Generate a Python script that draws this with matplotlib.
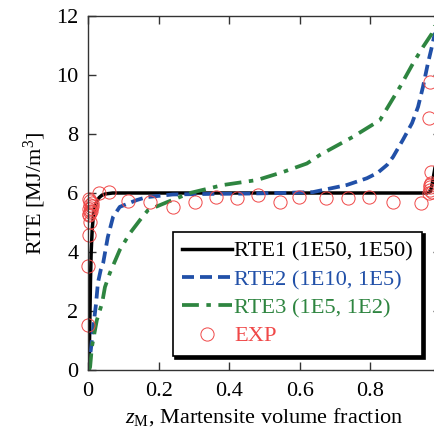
import matplotlib
matplotlib.use("Agg")
import matplotlib.pyplot as plt
import numpy as np

plt.rcParams['font.family'] = ['Liberation Serif', 'DejaVu Serif']
plt.rcParams['mathtext.fontset'] = 'custom'
plt.rcParams['mathtext.rm'] = 'Liberation Serif'
plt.rcParams['mathtext.it'] = 'Liberation Serif:italic'
plt.rcParams['font.size'] = 16

# RTE1 (1E50, 1E50)
z1 = [0.003, 0.005, 0.007, 0.009, 0.012, 0.016, 0.02, 0.025, 0.032, 0.04, 0.05, 0.07, 0.1,
      0.3, 0.5, 0.7, 0.9, 0.96, 0.97, 0.975, 0.985, 0.993, 1.0]
v1 = [0.0, 1.5, 3.0, 4.0, 4.8, 5.3, 5.55, 5.72, 5.85, 5.93, 5.97, 6.0, 6.0,
      6.0, 6.0, 6.0, 6.0, 6.0, 6.05, 6.3, 7.0, 8.5, 10.5]

# RTE2 (1E10, 1E5)
z2 = [0.0, 0.008, 0.015, 0.023, 0.028, 0.036, 0.043, 0.056, 0.071, 0.09, 0.138, 0.166, 0.24,
      0.35, 0.45, 0.544, 0.637, 0.733, 0.79, 0.82, 0.847, 0.864, 0.892, 0.918, 0.935,
      0.949, 0.963, 0.974, 0.99, 1.0]
v2 = [0.0, 0.68, 1.46, 2.27, 2.95, 3.39, 3.63, 4.5, 5.19, 5.53, 5.76, 5.86, 5.95,
      5.97, 5.98, 6.0, 6.03, 6.27, 6.5, 6.68, 6.95, 7.22, 7.8, 8.37, 8.92,
      9.6, 10.4, 10.95, 11.8, 12.3]

# RTE3 (1E5, 1E2)
z3 = [0.003, 0.006, 0.011, 0.025, 0.04, 0.048, 0.062, 0.09, 0.119, 0.147, 0.17, 0.224, 0.289,
      0.382, 0.479, 0.552, 0.62, 0.657, 0.75, 0.827, 0.884, 0.921, 0.949, 0.974, 1.0]
v3 = [0.0, 0.1, 0.78, 1.69, 2.27, 2.81, 3.29, 4.07, 4.64, 5.08, 5.42, 5.69, 6.0,
      6.27, 6.44, 6.71, 7.0, 7.29, 7.9, 8.47, 9.6, 10.4, 10.95, 11.4, 12.2]

# EXP
z_exp = [0.0, 0.0, 0.003, 0.006, 0.004, 0.006, 0.003, 0.008, 0.005, 0.01, 0.007, 0.004,
         0.012, 0.009, 0.002, 0.031, 0.06, 0.113, 0.176, 0.241, 0.303, 0.363, 0.422, 0.482,
         0.544, 0.598, 0.674, 0.737, 0.796, 0.864, 0.943, 0.965, 0.968, 0.97, 0.972, 0.969,
         0.972, 0.975, 0.966, 0.97]
v_exp = [1.53, 3.53, 4.58, 5.02, 5.25, 5.35, 5.45, 5.5, 5.6, 5.65, 5.72, 5.8,
         5.55, 5.4, 5.3, 6.0, 6.03, 5.73, 5.69, 5.53, 5.69, 5.86, 5.83, 5.93,
         5.69, 5.86, 5.83, 5.83, 5.86, 5.69, 5.66, 6.0, 6.1, 6.2, 6.35, 6.27,
         6.7, 6.05, 8.54, 9.76]

blue = '#2150a8'
green = '#2e8540'
red = '#f04848'

fig = plt.figure(figsize=(4.34, 4.37), dpi=100)
ax = fig.add_axes([88/434, 67/437, 353/434, 354/437])

ax.plot(z1, v1, color='black', lw=2.5, label='RTE1 (1E50, 1E50)')
ax.plot(z2, v2, color=blue, lw=2.7, ls=(0, (3.2, 1.6)), label='RTE2 (1E10, 1E5)')
ax.plot(z3, v3, color=green, lw=2.7, ls=(0, (4.5, 2.0, 1.2, 2.0)), label='RTE3 (1E5, 1E2)')
ax.plot(z_exp, v_exp, ls='none', marker='o', ms=9.5, mfc='none', mec=red, mew=0.7,
        clip_on=False, label='EXP')

ax.set_xlim(0, 1)
ax.set_ylim(0, 12)
ax.set_xticks([0, 0.2, 0.4, 0.6, 0.8, 1.0])
ax.set_xticklabels(['0', '0.2', '0.4', '0.6', '0.8', '1'])
ax.set_yticks([0, 2, 4, 6, 8, 10, 12])
ax.tick_params(direction='in', length=6, width=1, top=True, right=True, color='#333333')
ax.tick_params(axis='x', pad=9)
ax.tick_params(axis='y', pad=7)
for s in ax.spines.values():
    s.set_color('#333333')
    s.set_linewidth(1)

ax.set_xlabel(r'$z_{\mathrm{M}}$, Martensite volume fraction', labelpad=3)
ax.set_ylabel(r'RTE [MJ/m$^3$]', labelpad=6)

leg = ax.legend(loc='lower left', bbox_to_anchor=(0.24, 0.04), fontsize=16.2,
                handlelength=2.2, handletextpad=0.1, labelspacing=0.33,
                borderpad=0.42, borderaxespad=0, fancybox=False,
                shadow={'color': 'black', 'alpha': 1}, framealpha=1)
leg.get_frame().set_edgecolor('black')
leg.get_frame().set_linewidth(1.2)
for t, c in zip(leg.get_texts(), ['black', blue, green, red]):
    t.set_color(c)

fig.savefig('out.png', dpi=100)
